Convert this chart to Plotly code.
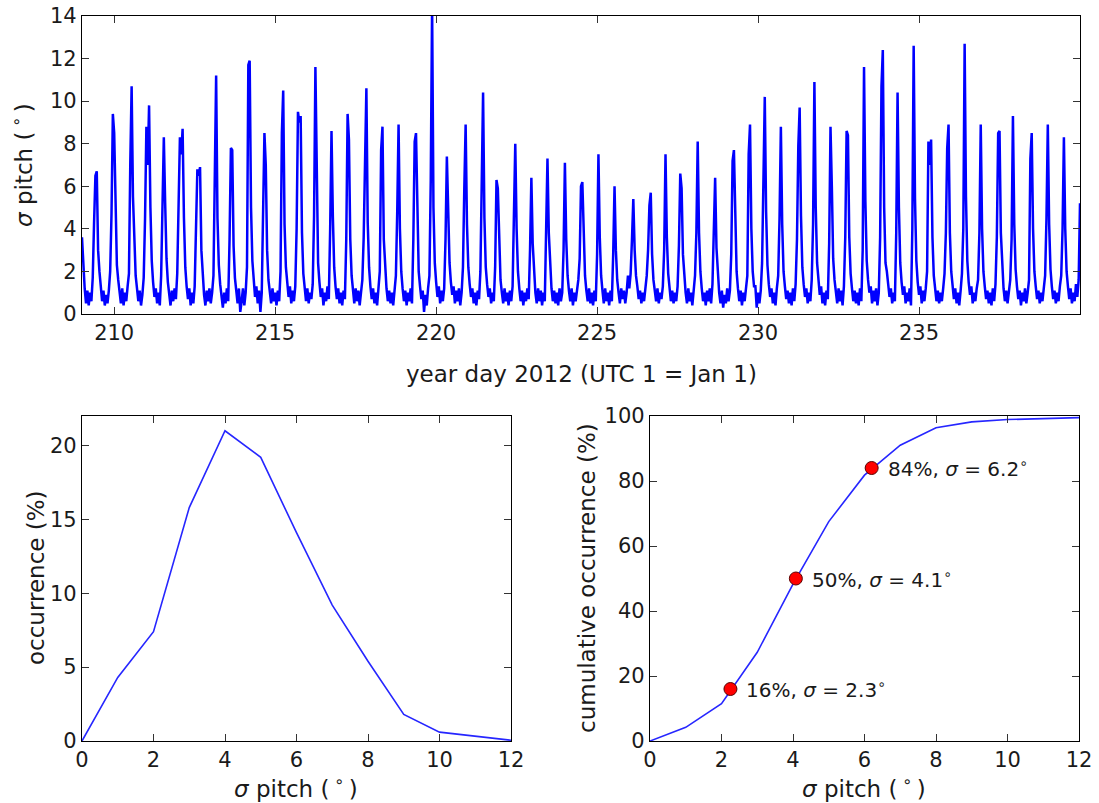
import plotly.graph_objects as go

# ---------------- data ----------------
# hourly sigma pitch (deg), starting at year day 209.0, one row per day (24 values)
start_day = 209.0
sigma_209_214 = [
    3.6, 2.0, 1.2, 0.5, 1.1, 0.4, 1.0, 0.6, 1.7, 4.3, 6.5, 6.7, 3.0, 2.0, 1.2, 0.6, 1.1, 0.4, 0.9, 0.5, 1.1, 2.0, 4.7, 9.4,
    8.5, 5.5, 2.3, 1.6, 1.0, 0.5, 1.2, 0.4, 1.0, 0.6, 1.3, 1.9, 7.1, 10.7, 5.5, 3.0, 1.8, 1.2, 0.6, 1.1, 0.4, 0.9, 1.7, 4.5,
    8.8, 7.0, 9.8, 5.0, 2.5, 1.5, 0.8, 1.2, 0.5, 1.0, 0.4, 1.8, 4.8, 8.3, 5.2, 2.6, 1.5, 0.9, 0.4, 1.1, 0.6, 1.2, 0.7, 1.9,
    4.6, 8.3, 7.5, 8.7, 4.5, 2.2, 1.3, 0.7, 1.2, 0.4, 1.0, 0.5, 1.3, 3.5, 6.8, 6.5, 6.9, 3.0, 1.6, 0.9, 0.4, 1.1, 0.6, 1.2,
    0.5, 1.0, 1.8, 7.7, 11.2, 4.5, 2.3, 1.4, 0.8, 0.3, 1.0, 0.5, 1.2, 0.6, 3.5, 7.8, 7.7, 3.2, 1.7, 1.0, 0.5, 1.2, 0.1, 0.6,
    1.2, 0.4, 1.0, 2.2, 11.7, 11.9, 5.0, 2.5, 1.5, 0.8, 1.3, 0.5, 1.1, 0.1, 1.0, 4.5, 8.5, 7.0, 3.0, 1.6, 1.0, 0.5, 1.2, 0.6,
]
sigma_215_220 = [
    1.0, 0.4, 1.1, 0.6, 2.0, 8.5, 10.5, 4.2, 2.2, 1.4, 0.8, 1.3, 0.5, 1.1, 0.6, 1.3, 4.0, 9.5, 9.0, 9.3, 3.8, 1.9, 1.2, 0.6,
    1.2, 0.5, 1.0, 0.7, 1.4, 4.6, 11.6, 5.8, 2.4, 1.5, 0.8, 1.2, 0.4, 1.0, 0.6, 1.3, 0.7, 4.0, 8.6, 4.6, 2.2, 1.3, 0.7, 1.2,
    0.5, 1.0, 0.4, 1.1, 0.7, 3.5, 9.4, 8.2, 3.5, 1.8, 1.1, 0.5, 1.2, 0.6, 1.1, 0.4, 1.0, 1.6, 3.6, 6.8, 10.6, 4.3, 2.2, 1.3,
    0.7, 1.2, 0.5, 1.0, 0.4, 1.2, 2.0, 7.7, 8.8, 3.5, 1.9, 1.2, 0.6, 1.1, 0.5, 1.0, 0.4, 1.2, 1.8, 4.8, 8.9, 4.0, 2.0, 1.2,
    0.6, 1.1, 0.4, 1.0, 0.6, 1.2, 0.5, 3.5, 8.1, 8.5, 4.0, 2.0, 1.3, 0.7, 1.1, 0.1, 0.9, 0.4, 1.2, 1.8, 6.3, 14.5, 5.0, 2.4,
    1.5, 0.8, 1.3, 0.5, 1.1, 0.6, 1.2, 3.5, 7.4, 4.6, 2.4, 1.5, 0.9, 1.3, 0.5, 1.1, 0.6, 1.2, 0.4, 1.0, 2.2, 5.9, 8.9, 4.2,
]
sigma_221_226 = [
    2.2, 1.4, 0.8, 1.2, 0.5, 1.0, 0.4, 1.1, 0.7, 2.0, 5.9, 10.4, 4.5, 2.2, 1.4, 0.8, 1.2, 0.5, 1.0, 0.6, 2.2, 6.3, 5.9, 3.0,
    1.6, 1.0, 0.5, 1.2, 0.6, 1.0, 0.4, 1.1, 0.6, 1.3, 4.2, 8.0, 4.0, 2.0, 1.2, 0.6, 1.1, 0.4, 1.0, 0.6, 1.2, 0.7, 3.0, 6.4,
    3.3, 1.8, 1.0, 0.5, 1.2, 0.6, 1.1, 0.4, 1.0, 0.6, 3.4, 7.3, 3.8, 2.0, 1.2, 0.6, 1.1, 0.5, 1.0, 0.4, 1.2, 0.6, 1.0, 3.0,
    7.1, 3.5, 1.8, 1.1, 0.6, 1.2, 0.4, 1.0, 0.6, 1.1, 1.6, 2.6, 6.0, 6.2, 3.2, 1.8, 1.1, 0.6, 1.2, 0.5, 1.0, 0.4, 1.1, 0.6,
    2.8, 7.5, 3.6, 1.8, 1.1, 0.5, 1.2, 0.6, 1.0, 0.4, 1.1, 0.6, 2.8, 6.0, 3.0, 1.6, 1.0, 0.5, 1.2, 0.7, 1.1, 0.5, 1.0, 1.8,
    1.2, 1.9, 3.5, 5.4, 3.0, 1.8, 1.3, 0.7, 1.1, 0.5, 1.0, 0.6, 1.2, 1.8, 3.0, 5.1, 5.7, 2.8, 1.6, 1.1, 0.6, 1.2, 0.5, 1.0,
]
sigma_227_232 = [
    0.7, 1.3, 3.0, 7.5, 3.6, 1.9, 1.2, 0.6, 1.1, 0.5, 1.0, 0.6, 1.3, 3.2, 6.6, 5.9, 2.8, 1.6, 1.0, 0.5, 1.2, 0.6, 1.0, 0.4,
    1.1, 1.8, 3.8, 8.1, 3.8, 2.0, 1.2, 0.6, 1.0, 0.4, 1.1, 0.6, 1.2, 0.5, 1.4, 3.4, 6.4, 3.1, 1.7, 1.0, 0.5, 1.1, 0.3, 0.9,
    0.5, 1.2, 0.6, 1.1, 2.8, 7.2, 7.7, 3.8, 2.0, 1.2, 0.6, 1.1, 0.4, 1.0, 0.6, 1.2, 1.8, 7.5, 8.9, 4.0, 2.0, 1.3, 1.3, 0.3,
    1.0, 0.5, 1.1, 2.4, 7.1, 10.2, 4.8, 2.3, 1.4, 0.8, 1.2, 0.5, 1.0, 0.4, 1.2, 1.8, 4.5, 8.8, 4.2, 2.0, 1.3, 0.7, 1.1, 0.5,
    1.0, 0.4, 1.2, 0.6, 1.4, 3.5, 7.9, 9.7, 4.6, 2.2, 1.4, 0.8, 1.2, 0.5, 1.0, 0.6, 1.6, 4.2, 10.9, 5.0, 2.4, 1.5, 0.9, 1.3,
    0.5, 1.0, 0.4, 1.1, 0.7, 3.3, 8.8, 6.0, 2.6, 1.6, 1.0, 0.5, 1.2, 0.6, 1.1, 0.4, 1.3, 3.6, 8.6, 8.4, 3.6, 1.9, 1.2, 0.6,
]
sigma_233_240 = [
    1.1, 0.5, 1.0, 0.4, 1.2, 0.6, 3.0, 11.6, 5.3, 2.5, 1.6, 1.0, 1.3, 0.5, 1.1, 0.6, 1.2, 0.4, 1.0, 3.6, 10.7, 12.4, 5.0, 2.4,
    2.0, 1.5, 0.8, 1.2, 0.5, 1.0, 0.6, 3.8, 10.4, 5.0, 2.4, 1.5, 0.9, 1.3, 0.5, 1.0, 0.6, 1.2, 0.4, 4.0, 12.6, 5.4, 2.5, 1.5,
    0.9, 1.3, 0.5, 1.1, 0.6, 1.2, 2.0, 8.1, 7.0, 8.2, 3.6, 1.8, 1.2, 0.6, 1.1, 0.5, 1.0, 0.6, 1.2, 1.9, 3.8, 7.8, 8.9, 3.8,
    2.0, 1.3, 0.7, 1.2, 0.5, 1.0, 0.4, 1.1, 1.9, 4.0, 12.7, 5.5, 2.5, 1.5, 0.9, 1.3, 0.5, 1.0, 0.6, 1.2, 1.6, 3.8, 8.9, 4.0,
    2.0, 1.3, 0.7, 1.1, 0.5, 1.0, 0.4, 1.2, 0.6, 1.4, 3.6, 8.5, 8.6, 3.8, 2.0, 1.2, 0.6, 1.1, 0.5, 1.0, 1.6, 3.5, 9.3, 4.2,
    2.1, 1.3, 0.7, 1.1, 0.4, 1.0, 0.6, 1.2, 0.5, 1.0, 1.6, 7.3, 8.5, 4.0, 2.0, 1.3, 0.7, 1.1, 0.5, 1.0, 0.6, 1.2, 1.8, 4.5,
    8.9, 4.2, 2.1, 1.3, 0.7, 1.1, 0.5, 1.0, 0.6, 1.3, 1.8, 4.0, 8.3, 4.0, 2.0, 1.3, 0.7, 1.2, 0.5, 1.0, 0.6, 1.4, 0.8, 1.6,
    5.2,
]

# histogram of sigma pitch
hist_sigma = [0, 1, 2, 3, 4, 5, 6, 7, 8, 9, 10, 11, 12]
hist_occ = [0.0, 4.3, 7.4, 15.8, 21.0, 19.2, 14.1, 9.2, 5.4, 1.8, 0.6, 0.35, 0.05]
cum_occ = [0.0, 4.2, 11.5, 27.3, 48.3, 67.5, 81.8, 91.0, 96.4, 98.2, 98.9, 99.3, 99.5]

# percentile markers
pct_sigma = [2.25, 4.08, 6.2]
pct_value = [16, 50, 84]
pct_labels = ["16%, <i>σ</i> = 2.3<sup>∘</sup>", "50%, <i>σ</i> = 4.1<sup>∘</sup>", "84%, <i>σ</i> = 6.2<sup>∘</sup>"]

top_xticks = [210, 215, 220, 225, 230, 235]

# ---------------- figure ----------------
sigma_series = sigma_209_214 + sigma_215_220 + sigma_221_226 + sigma_227_232 + sigma_233_240
days = [start_day + i / 24.0 for i in range(len(sigma_series))]

W, H = 1099, 803
def px_x(a, b):
    return [a / W, b / W]
def px_y(top, bottom):
    return [1 - bottom / H, 1 - top / H]

FONT = "DejaVu Sans"
TICK = 21
TITLE = 23
fig = go.Figure()
fig.add_trace(go.Scatter(x=days, y=sigma_series, mode="lines",
                         line=dict(color="#0000ff", width=2.5), xaxis="x", yaxis="y",
                         showlegend=False))
fig.add_trace(go.Scatter(x=hist_sigma, y=hist_occ, mode="lines",
                         line=dict(color="#2626ff", width=1.6), xaxis="x2", yaxis="y2",
                         showlegend=False))
fig.add_trace(go.Scatter(x=hist_sigma, y=cum_occ, mode="lines",
                         line=dict(color="#2626ff", width=1.6), xaxis="x3", yaxis="y3",
                         showlegend=False))
fig.add_trace(go.Scatter(x=pct_sigma, y=pct_value, mode="markers",
                         marker=dict(color="#ff0000", size=13, line=dict(color="#5a0000", width=1)),
                         xaxis="x3", yaxis="y3", showlegend=False))

axis_common = dict(showline=True, linecolor="black", linewidth=1.3, mirror="ticks",
                   ticks="inside", ticklen=7, tickwidth=1, tickcolor="#333",
                   showgrid=False, zeroline=False, automargin=False,
                   tickfont=dict(family=FONT, size=TICK, color="#1a1a1a"))

fig.update_layout(
    template="none",
    width=W, height=H, autosize=False,
    margin=dict(l=0, r=0, t=0, b=0, pad=0),
    paper_bgcolor="white", plot_bgcolor="white",
    font=dict(family=FONT, size=TICK, color="#1a1a1a"),
    xaxis=dict(domain=px_x(82, 1080), range=[209, 240], tickvals=top_xticks,
               anchor="y", **axis_common),
    yaxis=dict(domain=px_y(16, 314), range=[0, 14], dtick=2, anchor="x", **axis_common),
    xaxis2=dict(domain=px_x(82, 511), range=[0, 12], dtick=2, anchor="y2", **axis_common),
    yaxis2=dict(domain=px_y(416, 741), range=[0, 22], dtick=5, anchor="x2", **axis_common),
    xaxis3=dict(domain=px_x(650, 1079), range=[0, 12], dtick=2, anchor="y3", **axis_common),
    yaxis3=dict(domain=px_y(416, 741), range=[0, 100], dtick=20, anchor="x3", **axis_common),
)

sig_title = "<i>σ</i> pitch (\u2009<sup>∘</sup>\u2009)"
annos = [
    dict(text="year day 2012 (UTC 1 = Jan 1)", x=582 / W, y=1 - 374 / H),
    dict(text=sig_title, x=22 / W, y=1 - 165 / H, textangle=-90),
    dict(text=sig_title, x=296 / W, y=1 - 787 / H),
    dict(text=sig_title, x=864 / W, y=1 - 787 / H),
    dict(text="occurrence (%)", x=36 / W, y=1 - 578 / H, textangle=-90),
    dict(text="cumulative occurrence (%)", x=587 / W, y=1 - 578 / H, textangle=-90),
]
for a in annos:
    fig.add_annotation(xref="paper", yref="paper", showarrow=False,
                       xanchor="center", yanchor="middle",
                       font=dict(family=FONT, size=TITLE, color="#1a1a1a"), **a)

for xs, ys, lab in zip(pct_sigma, pct_value, pct_labels):
    fig.add_annotation(x=xs, y=ys, xref="x3", yref="y3", text=lab, showarrow=False,
                       xanchor="left", yanchor="middle", xshift=14,
                       font=dict(family=FONT, size=20, color="#1a1a1a"))

fig.write_html("out.html")
